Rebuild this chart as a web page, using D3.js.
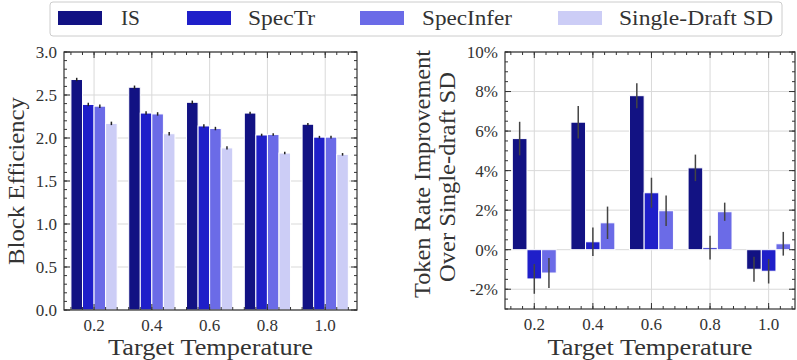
<!DOCTYPE html>
<html>
<head>
<meta charset="utf-8">
<script src="https://cdn.jsdelivr.net/npm/d3@7"></script>
<style>
  body { margin: 0; background: #fff; }
</style>
</head>
<body>
<div id="chart"></div>
<script>
// data
var temps = ["0.2", "0.4", "0.6", "0.8", "1.0"];
var methods = ["IS", "SpecTr", "SpecInfer", "Single-Draft SD"];
var colors = ["#121283", "#1f1fc9", "#6b6be7", "#cccdf6"];

// block efficiency (left panel)
var effIS        = [2.68, 2.59, 2.415, 2.29, 2.16];
var effSpecTr    = [2.39, 2.29, 2.14, 2.035, 2.01];
var effSpecInfer = [2.37, 2.28, 2.11, 2.04, 2.01];
var effSD        = [2.17, 2.05, 1.885, 1.825, 1.81];
var effErr       = [0.02, 0.02, 0.02, 0.015, 0.015];

// token rate improvement over single-draft SD, in % (right panel)
var impIS        = [5.62, 6.45, 7.79, 4.14, -0.99];
var impSpecTr    = [-1.48, 0.40, 2.88, 0.10, -1.09];
var impSpecInfer = [-1.18, 1.36, 1.97, 1.92, 0.30];
var errIS        = [0.85, 0.82, 0.63, 0.67, 0.63];
var errSpecTr    = [0.75, 0.72, 0.76, 0.60, 0.62];
var errSpecInfer = [0.76, 0.82, 0.77, 0.46, 0.60];

var W = 797, H = 360;
var svg = d3.select("#chart").append("svg")
    .attr("width", W).attr("height", H)
    .attr("font-family", "'Liberation Serif', 'DejaVu Serif', serif")
    .attr("fill", "#333");

var frameCol = "#333", gridCol = "#d9d9d9";

function panel(opts) {
  var g = svg.append("g");
  var x = d3.scaleLinear().domain(opts.xdom).range([opts.left, opts.right]);
  var y = d3.scaleLinear().domain(opts.ydom).range([opts.bottom, opts.top]);

  // grid
  g.selectAll(".gx").data(temps).enter().append("line")
    .attr("x1", function(d, i) { return x(i); }).attr("x2", function(d, i) { return x(i); })
    .attr("y1", opts.top).attr("y2", opts.bottom)
    .attr("stroke", gridCol).attr("stroke-width", 1);
  g.selectAll(".gy").data(opts.yticks).enter().append("line")
    .attr("x1", opts.left).attr("x2", opts.right)
    .attr("y1", function(d) { return y(d); }).attr("y2", function(d) { return y(d); })
    .attr("stroke", gridCol).attr("stroke-width", 1);

  // bars
  var n = opts.series.length;
  opts.series.forEach(function(s, k) {
    var off = (k - (n - 1) / 2) * opts.bw;
    g.selectAll(".b" + k).data(s).enter().append("rect")
      .attr("x", function(d, i) { return x(i + off - opts.bw / 2); })
      .attr("width", x(opts.bw) - x(0))
      .attr("y", function(d) { return y(Math.max(0, d)); })
      .attr("height", function(d) { return Math.abs(y(d) - y(0)); })
      .attr("fill", colors[k])
      .attr("stroke", "#fff").attr("stroke-width", 1);
    g.selectAll(".e" + k).data(s).enter().append("line")
      .attr("x1", function(d, i) { return x(i + off); })
      .attr("x2", function(d, i) { return x(i + off); })
      .attr("y1", function(d, i) { return y(d - opts.errs[k][i]); })
      .attr("y2", function(d, i) { return y(d + opts.errs[k][i]); })
      .attr("stroke", opts.errCol).attr("stroke-width", 1.5);
  });

  // frame
  g.append("rect")
    .attr("x", opts.left).attr("y", opts.top)
    .attr("width", opts.right - opts.left).attr("height", opts.bottom - opts.top)
    .attr("fill", "none").attr("stroke", frameCol).attr("stroke-width", 1.2);

  // inward ticks: y major/minor on both sides
  var yMinor = d3.range(opts.ydom[0], opts.ydom[1] + 1e-9, opts.yminor);
  [[opts.left, 1], [opts.right, -1]].forEach(function(side) {
    g.selectAll(null).data(yMinor).enter().append("line")
      .attr("x1", side[0]).attr("x2", side[0] + side[1] * 3)
      .attr("y1", function(d) { return y(d); }).attr("y2", function(d) { return y(d); })
      .attr("stroke", frameCol);
    g.selectAll(null).data(opts.yticks).enter().append("line")
      .attr("x1", side[0]).attr("x2", side[0] + side[1] * 6)
      .attr("y1", function(d) { return y(d); }).attr("y2", function(d) { return y(d); })
      .attr("stroke", frameCol);
  });
  var xMinor = d3.range(-0.4, 4.5, 0.2);
  [[opts.bottom, -1], [opts.top, 1]].forEach(function(side) {
    g.selectAll(null).data(xMinor).enter().append("line")
      .attr("x1", function(d) { return x(d); }).attr("x2", function(d) { return x(d); })
      .attr("y1", side[0]).attr("y2", side[0] + side[1] * 3)
      .attr("stroke", frameCol);
    g.selectAll(null).data(temps).enter().append("line")
      .attr("x1", function(d, i) { return x(i); }).attr("x2", function(d, i) { return x(i); })
      .attr("y1", side[0]).attr("y2", side[0] + side[1] * 6)
      .attr("stroke", frameCol);
  });

  // tick labels
  g.selectAll(null).data(opts.yticks).enter().append("text")
    .attr("x", opts.left - 7).attr("y", function(d) { return y(d); })
    .attr("dy", "0.35em").attr("text-anchor", "end")
    .attr("font-size", 17).text(opts.yfmt);
  g.selectAll(null).data(temps).enter().append("text")
    .attr("x", function(d, i) { return x(i); }).attr("y", opts.bottom + 21)
    .attr("text-anchor", "middle").attr("font-size", 17).text(function(d) { return d; });

  // axis titles
  g.append("text")
    .attr("x", (opts.left + opts.right) / 2).attr("y", 355)
    .attr("text-anchor", "middle").attr("font-size", 24)
    .attr("textLength", 205).attr("lengthAdjust", "spacingAndGlyphs")
    .text("Target Temperature");
  opts.ylabel.forEach(function(line, j) {
    g.append("text")
      .attr("transform", "translate(" + opts.ylx[j] + "," + opts.ylc[j] + ") rotate(-90)")
      .attr("text-anchor", "middle").attr("font-size", 24)
      .attr("textLength", opts.yll[j]).attr("lengthAdjust", "spacingAndGlyphs")
      .text(line);
  });
}

panel({
  left: 64, right: 357, top: 52, bottom: 310,
  xdom: [-0.52, 4.55], ydom: [0, 3],
  yticks: [0, 0.5, 1, 1.5, 2, 2.5, 3], yminor: 0.1,
  yfmt: function(d) { return d.toFixed(1); },
  series: [effIS, effSpecTr, effSpecInfer, effSD],
  errs: [effErr, effErr, effErr, effErr],
  errCol: "#222", bw: 0.2,
  ylabel: ["Block Efficiency"], ylx: [24], ylc: [181], yll: [168]
});

panel({
  left: 505, right: 795, top: 52, bottom: 309,
  xdom: [-0.5, 4.45], ydom: [-3, 10],
  yticks: [-2, 0, 2, 4, 6, 8, 10], yminor: 0.5,
  yfmt: function(d) { return d + "%"; },
  series: [impIS, impSpecTr, impSpecInfer],
  errs: [errIS, errSpecTr, errSpecInfer],
  errCol: "#444", bw: 0.25,
  ylabel: ["Token Rate Improvement", "Over Single-draft SD"],
  ylx: [430, 455], ylc: [174, 177], yll: [248, 210]
});

// legend
var leg = svg.append("g");
leg.append("rect").attr("x", 50).attr("y", 2).attr("width", 732).attr("height", 34)
  .attr("rx", 3).attr("fill", "#fff").attr("stroke", "#ccc");
var legX = [58, 187, 360, 558];
var legTX = [121, 248, 422, 619];
var legTW = [19, 67, 90, 154];
methods.forEach(function(m, k) {
  leg.append("rect").attr("x", legX[k]).attr("y", 11).attr("width", 44).attr("height", 14)
    .attr("fill", colors[k]);
  leg.append("text").attr("x", legTX[k]).attr("y", 18).attr("dy", "0.35em")
    .attr("font-size", 21).attr("textLength", legTW[k]).attr("lengthAdjust", "spacingAndGlyphs")
    .text(m);
});
</script>
</body>
</html>
